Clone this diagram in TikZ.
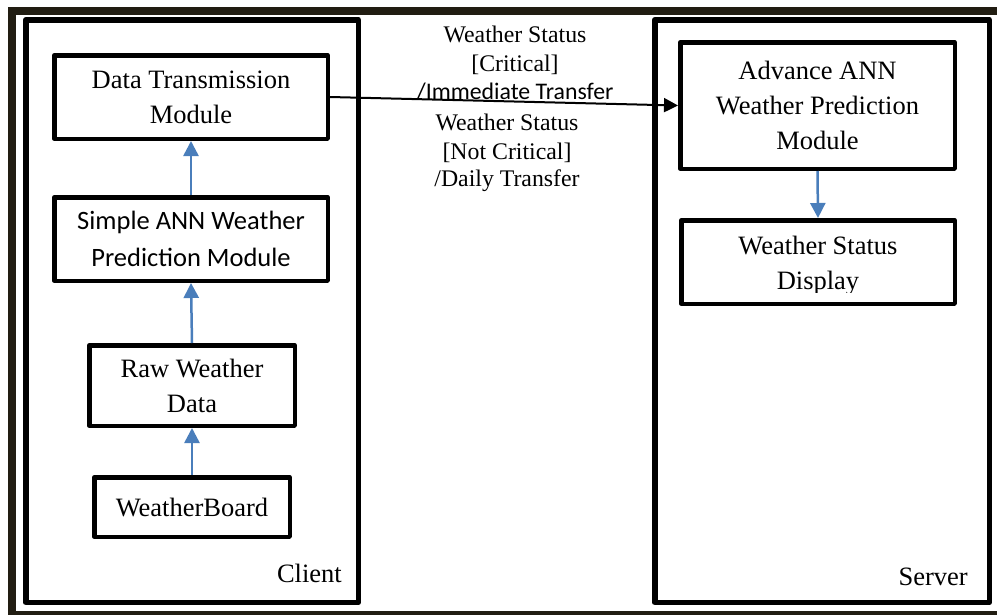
\documentclass[tikz,border=0pt]{standalone}
\usepackage{fontspec}
\setmainfont{Liberation Serif}
\newfontfamily\calibri{Carlito}
\usetikzlibrary{arrows.meta}
\definecolor{framedark}{RGB}{33,29,18}
\definecolor{flowblue}{RGB}{74,126,187}
\begin{document}
\begin{tikzpicture}[x=1pt,y=-1pt,
  module/.style={draw=black,line width=4.5pt,line join=round,align=center,
    inner sep=0pt,font=\fontsize{26.5}{35}\selectfont},
  plainbox/.style={draw=black,line width=4.5pt,line join=round,inner sep=0pt},
  boxtext/.style={align=center,inner sep=0pt,font=\fontsize{26.5}{35}\selectfont},
  container/.style={draw=black,line width=5.5pt,line join=round,inner sep=0pt},
  tag/.style={font=\fontsize{26.5}{35}\selectfont,inner sep=0pt,anchor=base east},
  note/.style={inner sep=0pt,anchor=base,font=\fontsize{23.8}{28.5}\selectfont},
  upflow/.style={draw=flowblue,line width=2.5pt,-{Triangle[width=15pt,length=15pt]}},
  transfer/.style={draw=black,line width=2pt,-{Triangle[width=14pt,length=14pt]}}]
\useasboundingbox (0,0) rectangle (997,614);

% outer frame
\draw[framedark,line width=8pt] (12,11) rectangle (1010,615);

% client and server areas
\node[container,minimum width=332.5pt,minimum height=582.5pt] (client) at (192,311) {};
\node[container,minimum width=334.5pt,minimum height=582.5pt] (server) at (822,311) {};
\node[tag] (clientlabel) at (342,582) {Client};
\node[tag] (serverlabel) at (968,585) {Server};

% client modules
\node[module,minimum width=273.5pt,minimum height=83.5pt] (dtm) at (191,97) {Data Transmission\\Module};
\node[module,minimum width=273.5pt,minimum height=83.5pt,font=\calibri\fontsize{26.5}{37}\selectfont] (simple) at (191,239) {Simple ANN Weather\\Prediction Module};
\node[module,minimum width=205.5pt,minimum height=80.5pt] (raw) at (192,385.5) {Raw Weather\\Data};
\node[module,minimum width=195.5pt,minimum height=59.5pt] (wb) at (192,507) {WeatherBoard};

% server modules
\node[module,minimum width=274.5pt,minimum height=126.5pt] (adv) at (817.5,105.5) {Advance ANN\\Weather Prediction\\Module};
\node[plainbox,minimum width=273.5pt,minimum height=83.5pt] (disp) at (818,262) {};
\begin{scope}
  \clip (681,220) rectangle (955,292);
  \node[boxtext] (disptext) at (818,266) {Weather Status\\Display};
\end{scope}

% flows
\draw[upflow] (wb.north) -- (raw.south);
\draw[upflow] (raw.north) -- (simple.south);
\draw[upflow] (simple.north) -- (dtm.south);
\draw[upflow] (adv.south) -- (disp.north);
\draw[transfer] (dtm.east) -- (adv.west);

% transfer conditions
\node[note] (c1) at (515,42.7) {Weather Status};
\node[note] (c2) at (515,71.5) {[Critical]};
\node[note,font=\calibri\fontsize{23.8}{28.5}\selectfont] (c3) at (515,99) {/Immediate Transfer};
\node[note] (d1) at (507,130.7) {Weather Status};
\node[note] (d2) at (507,159.3) {[Not Critical]};
\node[note] (d3) at (507,186.7) {/Daily Transfer};
\end{tikzpicture}
\end{document}
